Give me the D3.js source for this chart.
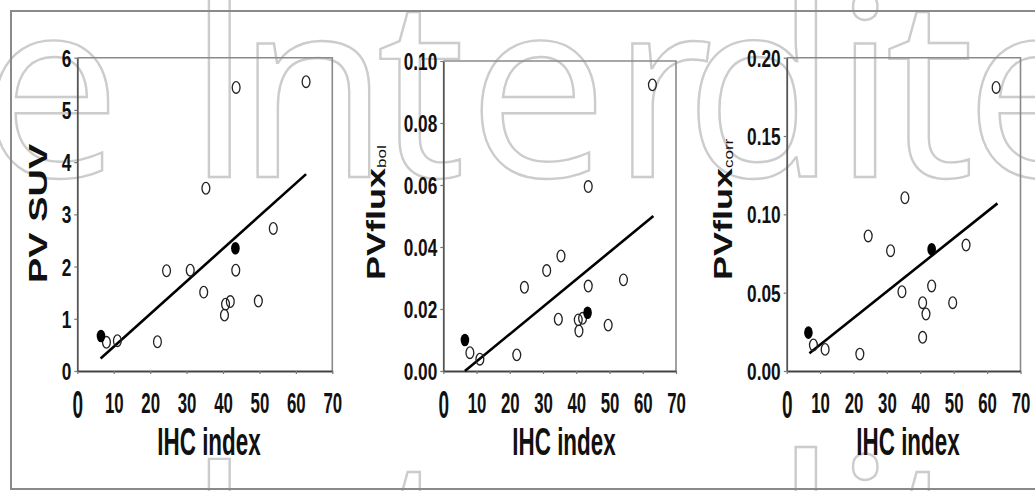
<!DOCTYPE html>
<html>
<head>
<meta charset="utf-8">
<script src="https://cdn.jsdelivr.net/npm/d3@7"></script>
<style>
html,body{margin:0;padding:0;background:#fff;}
svg{display:block;}
</style>
</head>
<body>
<svg id="chart" width="1035" height="491"></svg>
<script>
// ---------- data ----------
const xTicks = [0, 10, 20, 30, 40, 50, 60, 70];
const suvTicks = [0, 1, 2, 3, 4, 5, 6];
const fluxBolTicks = [0, 0.02, 0.04, 0.06, 0.08, 0.10];
const fluxCorrTicks = [0, 0.05, 0.10, 0.15, 0.20];

const ihcFilled = [6.5, 43.4];

const ihcOpen1 = [8, 11, 22, 24.5, 31, 34.7, 35.3, 40.4, 40.7, 42, 43.5, 43.6, 49.7, 53.8, 62.8];
const suvOpen  = [0.55, 0.58, 0.56, 1.92, 1.93, 1.51, 3.5, 1.07, 1.28, 1.33, 1.93, 5.43, 1.34, 2.73, 5.54];
const suvFilled = [0.67, 2.35];
const fitX1 = [6.4, 62.8];
const suvFit = [0.24, 3.77];

const ihcOpen2 = [8, 11, 22.1, 24.4, 31.1, 34.6, 35.4, 40.6, 40.8, 41.9, 43.6, 43.6, 49.6, 54.2, 62.9];
const fluxBolOpen = [0.0059, 0.0038, 0.0052, 0.027, 0.0324, 0.0167, 0.0371, 0.0165, 0.0129, 0.017, 0.0274, 0.0595, 0.0148, 0.0294, 0.0923];
const fluxBolFilled = [0.0100, 0.0188];
const fitX2 = [6.5, 63.2];
const fluxBolFit = [0.0, 0.050];

const ihcOpen3 = [8, 11.5, 21.9, 24.4, 31.1, 34.5, 35.4, 40.7, 40.7, 41.7, 43.4, 49.7, 53.7, 62.7];
const fluxCorrOpen = [0.0166, 0.0138, 0.0108, 0.0862, 0.0768, 0.0506, 0.1106, 0.0215, 0.0436, 0.0364, 0.0543, 0.0436, 0.0804, 0.181];
const fluxCorrFilled = [0.0245, 0.0777];
const fitX3 = [6.8, 63.1];
const fluxCorrFit = [0.0113, 0.107];

const watermarkLetters = ["e", "I", "n", "t", "e", "r", "d", "i", "t", "e"];

// ---------- drawing ----------
const svg = d3.select("#chart");
const FONT = "'Liberation Sans', Arial, sans-serif";

// watermark (outlined text, two lines)
const wmCenters = [51, 219.5, 313, 421, 538, 662, 761, 865, 930, 1035];
const wm = svg.append("g").attr("fill", "none").attr("stroke", "#cccccc").attr("stroke-width", 2.4);
[177, 637].forEach(base => {
  watermarkLetters.forEach((ch, i) => {
    wm.append("text")
      .attr("x", wmCenters[i]).attr("y", base)
      .attr("text-anchor", "middle")
      .attr("font-family", "'Open Sans', 'Noto Sans', sans-serif")
      .attr("font-size", 250)
      .text(ch);
  });
});

// outer frame
svg.append("path")
  .attr("d", "M1035,11 H11 V489 H1035")
  .attr("fill", "none").attr("stroke", "#8a8a8a").attr("stroke-width", 2);

const panels = [
  {x0: 77.3, x1: 332.3, y0: 57.7, y1: 371, yMax: 6, yTicks: suvTicks, fmt: d3.format("d"),
   ox: ihcOpen1, oy: suvOpen, fy: suvFilled, fitX: fitX1, fitY: suvFit,
   label: "PV SUV", sub: "", labelX: 47, labelY: 283, labelSize: 38, xlabX: 209},
  {x0: 443.3, x1: 676, y0: 61, y1: 371, yMax: 0.1, yTicks: fluxBolTicks, fmt: d3.format(".2f"),
   ox: ihcOpen2, oy: fluxBolOpen, fy: fluxBolFilled, fitX: fitX2, fitY: fluxBolFit,
   label: "PVflux", sub: "bol", labelX: 385, labelY: 280, labelSize: 36, xlabX: 564},
  {x0: 786.7, x1: 1020.5, y0: 57.7, y1: 371, yMax: 0.2, yTicks: fluxCorrTicks, fmt: d3.format(".2f"),
   ox: ihcOpen3, oy: fluxCorrOpen, fy: fluxCorrFilled, fitX: fitX3, fitY: fluxCorrFit,
   label: "PVflux", sub: "corr", labelX: 732, labelY: 280, labelSize: 36, xlabX: 908}
];

panels.forEach(p => {
  const x = d3.scaleLinear().domain([0, 70]).range([p.x0, p.x1]);
  const y = d3.scaleLinear().domain([0, p.yMax]).range([p.y1, p.y0]);
  const g = svg.append("g");

  // box top & right
  g.append("path")
    .attr("d", `M${p.x0},${p.y0} H${p.x1} V${p.y1}`)
    .attr("fill", "none").attr("stroke", "#8a8a8a").attr("stroke-width", 1.6);

  // y axis
  const sxY = 0.72;
  const ya = g.append("g").attr("transform", `translate(${p.x0},0)`)
    .call(d3.axisLeft(y).tickValues(p.yTicks).tickFormat(p.fmt).tickSize(3).tickSizeOuter(0));
  ya.select(".domain").attr("stroke", "#555").attr("stroke-width", 1.8);
  ya.selectAll(".tick line").attr("stroke", "#777").attr("stroke-width", 1.2);
  ya.selectAll(".tick text")
    .attr("font-family", FONT).attr("font-weight", "bold").attr("font-size", 24)
    .attr("fill", "#111")
    .attr("x", -6 / sxY).attr("dy", "0.36em")
    .attr("transform", `scale(${sxY},1)`);

  // x axis
  const sxX = 0.58;
  const xa = g.append("g").attr("transform", `translate(0,${p.y1})`)
    .call(d3.axisBottom(x).tickValues(xTicks).tickSize(3).tickSizeOuter(0));
  xa.select(".domain").attr("stroke", "#444").attr("stroke-width", 2.2);
  xa.selectAll(".tick line").attr("stroke", "#777").attr("stroke-width", 1.2);
  xa.selectAll(".tick text")
    .attr("font-family", FONT).attr("font-weight", "bold")
    .attr("font-size", d => d === 0 ? 38 : 29)
    .attr("fill", "#111")
    .attr("y", d => d === 0 ? 47 : 42).attr("dy", 0)
    .attr("transform", d => `scale(${d === 0 ? 0.5 : sxX},1)`);

  // x label
  g.append("text")
    .attr("transform", `translate(${p.xlabX},455) scale(0.59,1)`)
    .attr("text-anchor", "middle")
    .attr("font-family", FONT).attr("font-weight", "bold").attr("font-size", 38)
    .attr("fill", "#111")
    .text("IHC index");

  // y label
  const yl = g.append("text")
    .attr("transform", `translate(${p.labelX},${p.labelY}) rotate(-90) scale(1,0.7)`)
    .attr("text-anchor", "start")
    .attr("font-family", FONT).attr("font-weight", "bold").attr("font-size", p.labelSize)
    .attr("fill", "#111");
  yl.append("tspan").text(p.label);
  if (p.sub) {
    yl.append("tspan").attr("font-size", 17).attr("font-weight", "normal").attr("dy", 2).text(p.sub);
  }

  // regression line
  g.append("line")
    .attr("x1", x(p.fitX[0])).attr("y1", y(p.fitY[0]))
    .attr("x2", x(p.fitX[1])).attr("y2", y(p.fitY[1]))
    .attr("stroke", "#000").attr("stroke-width", 2.6);

  // open points
  g.selectAll(".open").data(p.ox.map((v, i) => [v, p.oy[i]])).join("ellipse")
    .attr("cx", d => x(d[0])).attr("cy", d => y(d[1]))
    .attr("rx", 3.9).attr("ry", 5.8)
    .attr("fill", "none").attr("stroke", "#222").attr("stroke-width", 1.3);

  // filled points
  g.selectAll(".filled").data(ihcFilled.map((v, i) => [v, p.fy[i]])).join("ellipse")
    .attr("cx", d => x(d[0])).attr("cy", d => y(d[1]))
    .attr("rx", 4.3).attr("ry", 6.3)
    .attr("fill", "#000");
});
</script>
</body>
</html>
